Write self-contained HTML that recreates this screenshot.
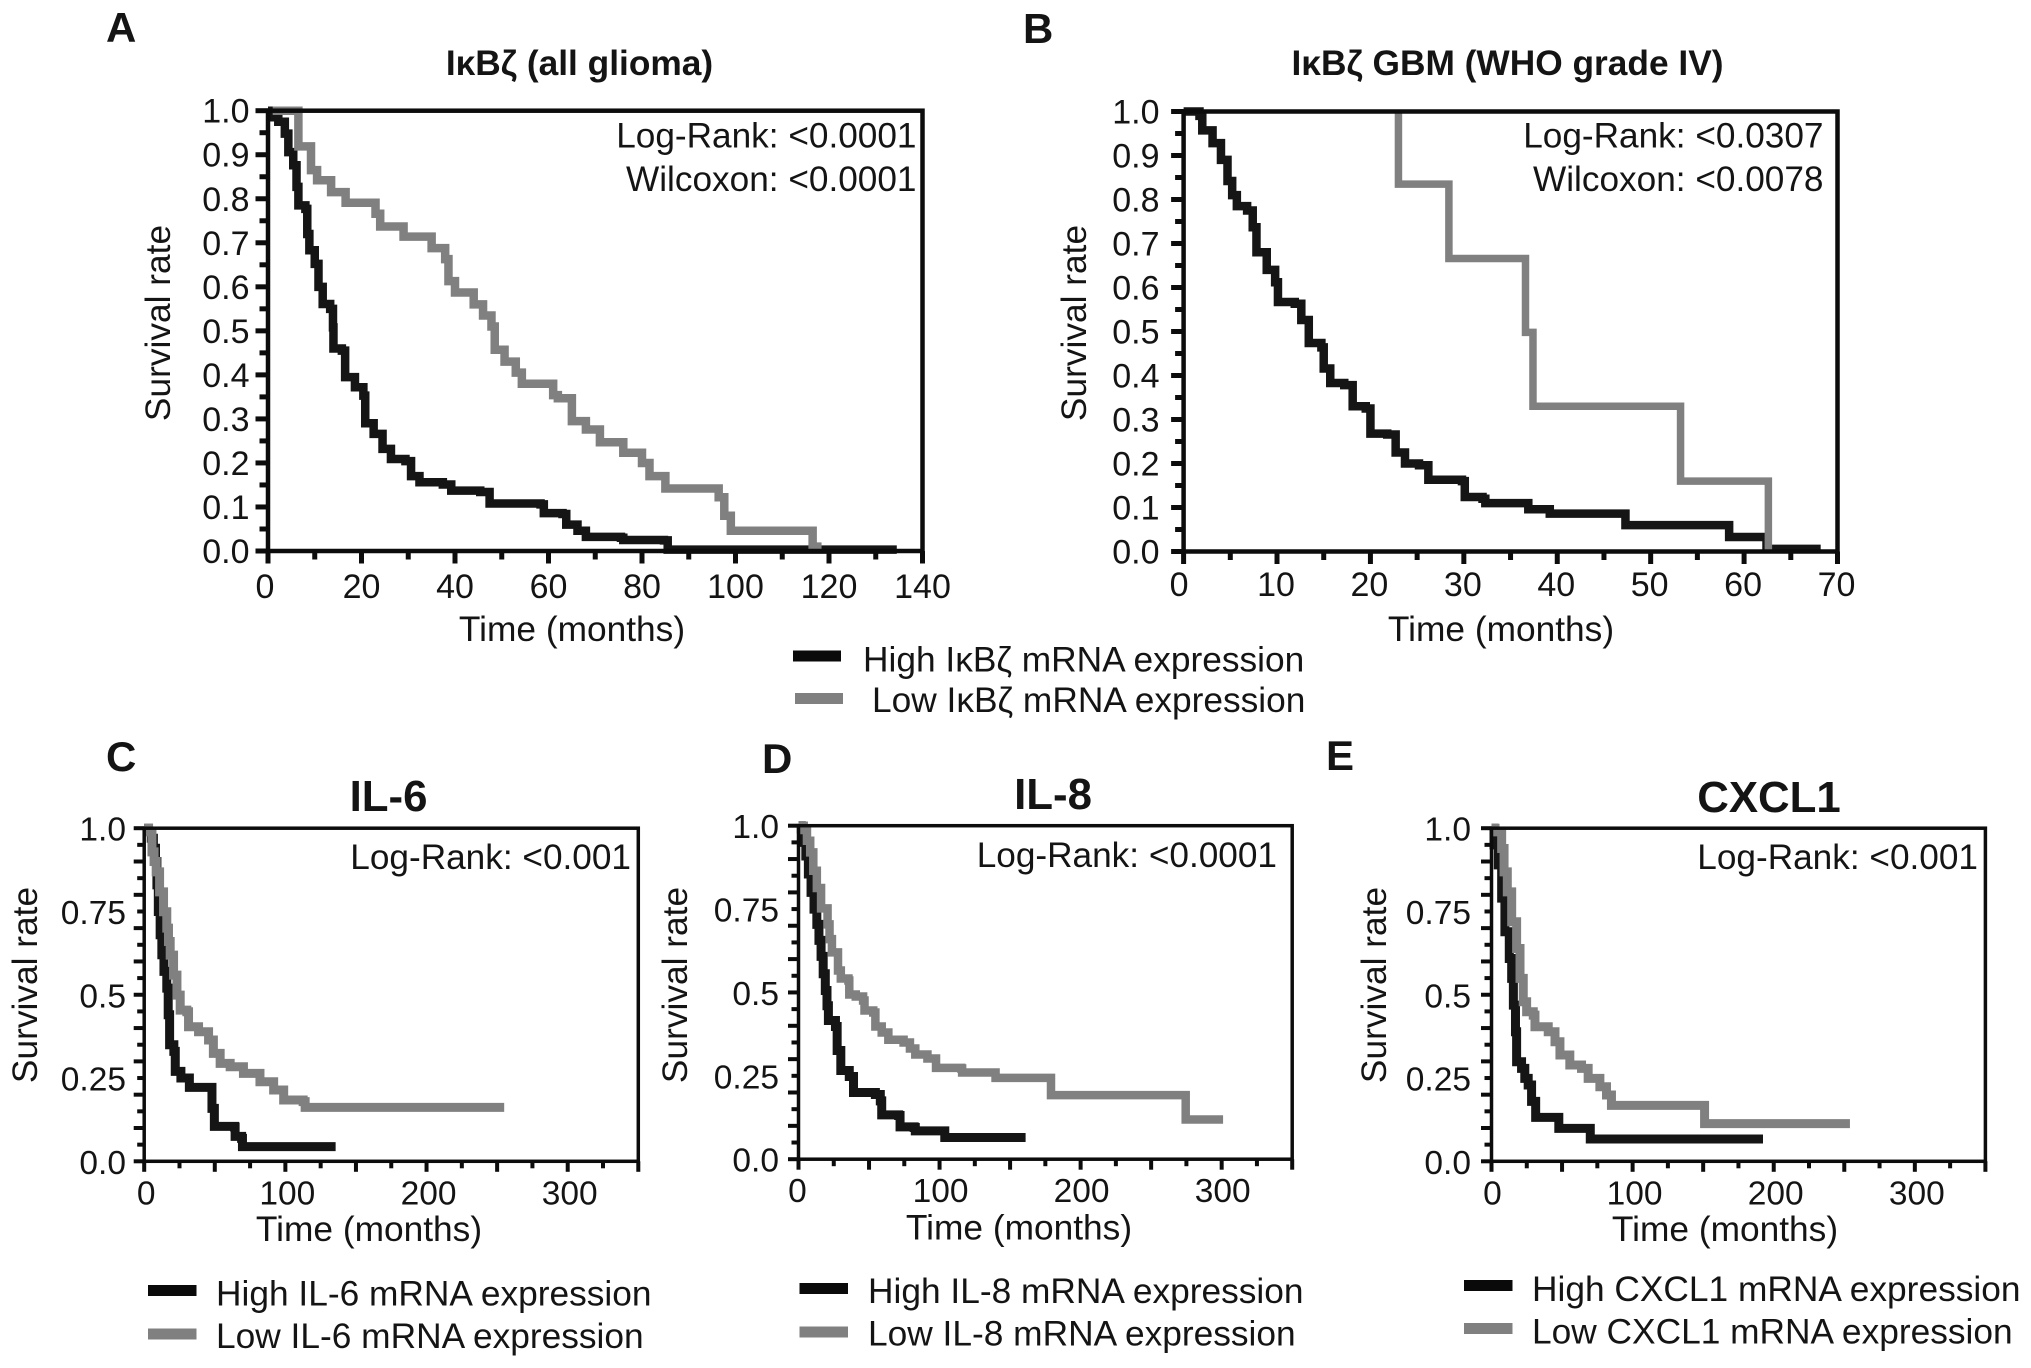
<!DOCTYPE html>
<html lang="en">
<head>
<meta charset="utf-8">
<title>Survival curves</title>
<style>
html,body{margin:0;padding:0;background:#fff;width:2031px;height:1368px;overflow:hidden}
svg{display:block}
text{font-family:"Liberation Sans",Arial,sans-serif;fill:#141414}
.tick{font-size:34px}
.tick2{font-size:33.5px}
.axt{font-size:35.3px}
.stat{font-size:35.2px;text-anchor:end}
.leg{font-size:35.3px}
.ttl{font-size:35.3px;font-weight:bold;text-anchor:middle}
.ttl2{font-size:43.8px;font-weight:bold;text-anchor:middle}
.let{font-size:42px;font-weight:bold}
</style>
</head>
<body>
<svg id="figure" xmlns="http://www.w3.org/2000/svg" width="2031" height="1368" viewBox="0 0 2031 1368">
  <rect x="0" y="0" width="2031" height="1368" fill="#ffffff"/>

  <text class="let" x="106" y="42">A</text>
  <text class="let" x="1023" y="43">B</text>
  <text class="let" x="106" y="771">C</text>
  <text class="let" x="762" y="773">D</text>
  <text class="let" x="1326" y="770">E</text>

  <text class="ttl" x="579.5" y="75">IκBζ (all glioma)</text>
  <text class="ttl" x="1507.5" y="75">IκBζ GBM (WHO grade IV)</text>
  <text class="ttl2" x="388.5" y="811">IL-6</text>
  <text class="ttl2" x="1053" y="809">IL-8</text>
  <text class="ttl2" x="1769" y="812">CXCL1</text>

  <text class="stat" x="916.5" y="147.5">Log-Rank: &lt;0.0001</text>
  <text class="stat" x="916.5" y="191">Wilcoxon: &lt;0.0001</text>
  <text class="stat" x="1823.5" y="147.5">Log-Rank: &lt;0.0307</text>
  <text class="stat" x="1823.5" y="191">Wilcoxon: &lt;0.0078</text>
  <text class="stat" x="631" y="869">Log-Rank: &lt;0.001</text>
  <text class="stat" x="1277" y="867">Log-Rank: &lt;0.0001</text>
  <text class="stat" x="1978" y="869">Log-Rank: &lt;0.001</text>

  <text class="axt" text-anchor="middle" x="572" y="641">Time (months)</text>
  <text class="axt" text-anchor="middle" x="1501" y="641">Time (months)</text>
  <text class="axt" text-anchor="middle" x="369" y="1241">Time (months)</text>
  <text class="axt" text-anchor="middle" x="1019" y="1239.5">Time (months)</text>
  <text class="axt" text-anchor="middle" x="1725" y="1241">Time (months)</text>

  <text class="axt" text-anchor="middle" transform="translate(170 323) rotate(-90)">Survival rate</text>
  <text class="axt" text-anchor="middle" transform="translate(1086 323) rotate(-90)">Survival rate</text>
  <text class="axt" text-anchor="middle" transform="translate(37 985) rotate(-90)">Survival rate</text>
  <text class="axt" text-anchor="middle" transform="translate(687 985) rotate(-90)">Survival rate</text>
  <text class="axt" text-anchor="middle" transform="translate(1386 985) rotate(-90)">Survival rate</text>

  <rect x="793" y="650.5" width="48" height="11" fill="#0a0a0a"/>
  <rect x="795" y="693" width="48" height="11" fill="#808080"/>
  <text class="leg" x="863" y="671.5">High IκBζ mRNA expression</text>
  <text class="leg" x="872" y="712">Low IκBζ mRNA expression</text>

  <rect x="148" y="1285" width="48.5" height="11" fill="#0a0a0a"/>
  <rect x="148" y="1328.5" width="48.5" height="11" fill="#808080"/>
  <text class="leg" x="216" y="1305.5">High IL-6 mRNA expression</text>
  <text class="leg" x="216" y="1348">Low IL-6 mRNA expression</text>

  <rect x="799.5" y="1283" width="48.5" height="11" fill="#0a0a0a"/>
  <rect x="799.5" y="1326.5" width="48.5" height="11" fill="#808080"/>
  <text class="leg" x="868" y="1303">High IL-8 mRNA expression</text>
  <text class="leg" x="868" y="1345.5">Low IL-8 mRNA expression</text>

  <rect x="1464" y="1280" width="48.5" height="11" fill="#0a0a0a"/>
  <rect x="1464" y="1323" width="48.5" height="11" fill="#808080"/>
  <text class="leg" x="1532" y="1301">High CXCL1 mRNA expression</text>
  <text class="leg" x="1532" y="1343.5">Low CXCL1 mRNA expression</text>

  <g id="charts"></g>
</svg>

<script>
// ---- Tick labels ----
const survivalTicksAB = ['0.0','0.1','0.2','0.3','0.4','0.5','0.6','0.7','0.8','0.9','1.0'];
const survivalValuesAB = [0,0.1,0.2,0.3,0.4,0.5,0.6,0.7,0.8,0.9,1];
const survivalTicksCDE = ['0.0','0.25','0.5','0.75','1.0'];
const survivalValuesCDE = [0,0.25,0.5,0.75,1];
const timeTicksA = [0,20,40,60,80,100,120,140];
const timeTicksB = [0,10,20,30,40,50,60,70];
const timeTicksCDE = [0,100,200,300];

// ---- Panel A: IkBz all glioma ----
const panelAHighTime = [0,1.2,2.2,3.6,4.35,5.4,6.1,6.5,8,8.4,8.85,10,10.8,11.7,13.3,13.9,14,15.8,16.5,18.6,20.4,20.8,22.6,24.5,26.3,29.4,30.6,32.4,37.4,39.2,45.4,47.4,58.3,59,63,63.8,66.2,68,75.5,76,84.7,85.5,134.5];
const panelAHighSurvival = [1,0.985,0.975,0.948,0.906,0.876,0.827,0.785,0.777,0.72,0.683,0.652,0.6,0.561,0.55,0.508,0.46,0.455,0.395,0.372,0.353,0.29,0.266,0.232,0.209,0.204,0.17,0.156,0.151,0.137,0.134,0.108,0.106,0.086,0.084,0.06,0.046,0.032,0.03,0.025,0.024,0.003,0.003];
const panelALowTime = [1,6.5,9.2,10.5,13.5,16.6,23,24,29,35,37.9,38.6,40,44,46,47.8,48.5,50.6,53,54.3,61,62,65,68,71,76,80,81.6,85,96.4,97.6,99,116.5,117.5];
const panelALowSurvival = [1,0.919,0.865,0.842,0.815,0.791,0.766,0.737,0.714,0.688,0.663,0.613,0.587,0.56,0.535,0.51,0.457,0.43,0.405,0.38,0.354,0.347,0.295,0.276,0.247,0.223,0.2,0.17,0.142,0.122,0.08,0.046,0.01,0];

// ---- Panel B: IkBz GBM ----
const panelBHighTime = [0,1.7,2,3.1,4,4.7,5.2,5.7,6.8,7.4,7.8,8.9,9.8,10.1,11.9,12.6,13.4,14.75,15,15.7,17.2,18.1,19.5,20,21.8,22.7,23.7,25.2,26.2,29.8,30.1,32,32.3,36.9,39.2,47.3,58.4,62.4,68.2];
const panelBHighSurvival = [1,0.99,0.957,0.928,0.89,0.842,0.81,0.785,0.775,0.737,0.68,0.64,0.612,0.567,0.563,0.526,0.474,0.464,0.416,0.383,0.378,0.33,0.325,0.268,0.266,0.225,0.2,0.196,0.163,0.16,0.124,0.12,0.11,0.096,0.086,0.06,0.033,0.006,0.006];
const panelBLowTime = [23,23,28.4,36.6,37.4,53.2,62.6];
const panelBLowSurvival = [1,0.835,0.666,0.498,0.33,0.16,0];

// ---- Panel C: IL-6 ----
const panelCHighTime = [0,3,5,6.5,8,9,10,11.3,12.5,14,16,17,18,21,22,25.7,26,31.7,32,47.5,48,49.7,64,64.4,69,69.6,135.6];
const panelCHighSurvival = [1,0.99,0.97,0.94,0.9,0.83,0.75,0.68,0.62,0.57,0.52,0.44,0.35,0.33,0.27,0.27,0.25,0.25,0.222,0.222,0.159,0.105,0.103,0.075,0.069,0.044,0.044];
const panelCLowTime = [0,3.1,5.5,7,8.5,10.9,13.7,16,17.2,18.4,20.8,23.2,25.5,30.2,31.4,38.5,45.6,49,53.8,60.9,70.3,82,91.7,98.8,112.6,114,255];
const panelCLowSurvival = [1,0.989,0.929,0.9,0.869,0.809,0.749,0.7,0.66,0.619,0.559,0.499,0.454,0.449,0.404,0.389,0.364,0.324,0.294,0.284,0.264,0.239,0.214,0.184,0.179,0.162,0.162];

// ---- Panel D: IL-8 ----
const panelDHighTime = [0,2,3.6,5.2,7,8.9,11,13,14.5,16,17.5,19,20.2,21.2,26.2,27.4,30,36,39,54.5,58,59,71,72,82,82.8,103.7,161];
const panelDHighSurvival = [1,0.99,0.95,0.909,0.855,0.8,0.75,0.704,0.656,0.608,0.556,0.506,0.46,0.416,0.398,0.326,0.266,0.248,0.2,0.194,0.175,0.133,0.131,0.097,0.095,0.085,0.065,0.065];
const panelDLowTime = [0,3.7,6,8.3,10.5,13,16,20.6,22,23.7,28,30,35.4,36,40.6,45.8,46.8,53,54.5,59,63.7,74.5,79,82.8,91.4,97.5,115.4,116,139.7,179,274.5,301];
const panelDLowSurvival = [1,0.987,0.955,0.92,0.865,0.813,0.752,0.704,0.66,0.62,0.566,0.542,0.536,0.494,0.488,0.476,0.446,0.44,0.398,0.38,0.358,0.35,0.332,0.314,0.302,0.274,0.272,0.26,0.244,0.192,0.119,0.119];

// ---- Panel E: CXCL1 ----
const panelEHighTime = [0,1.8,4.8,7.2,9.5,12.6,14.3,15.5,17,17.8,21.3,23.6,26,28.4,31.3,47.7,70,192.4];
const panelEHighSurvival = [1,0.95,0.89,0.79,0.689,0.609,0.549,0.469,0.389,0.299,0.279,0.249,0.229,0.18,0.132,0.099,0.067,0.067];
const panelELowTime = [0,2.5,7.2,8.9,11.2,14.3,17.8,20.2,22.5,24.9,29.6,30.8,40.2,45,48.5,55.5,63.8,68.5,76.8,81.5,85,151,254];
const panelELowSurvival = [1,0.989,0.939,0.869,0.809,0.719,0.639,0.549,0.479,0.449,0.439,0.404,0.389,0.359,0.319,0.289,0.279,0.249,0.224,0.199,0.168,0.113,0.113];

const NS = 'http://www.w3.org/2000/svg';
const root = document.getElementById('charts');

function make(tag, parent) {
  const el = document.createElementNS(NS, tag);
  parent.appendChild(el);
  return el;
}

function linScale(d0, d1, r0, r1) {
  return function (v) { return r0 + (v - d0) * (r1 - r0) / (d1 - d0); };
}

function drawSeries(group, xs, ys, time, surv, color, width, name) {
  let d = 'M' + xs(time[0]).toFixed(2) + ' ' + ys(surv[0]).toFixed(2);
  for (let i = 1; i < time.length; i++) {
    d += 'H' + xs(time[i]).toFixed(2) + 'V' + ys(surv[i]).toFixed(2);
  }
  const p = make('path', group);
  p.setAttribute('d', d);
  p.setAttribute('fill', 'none');
  p.setAttribute('stroke', color);
  p.setAttribute('stroke-width', width);
  p.setAttribute('stroke-linejoin', 'miter');
  p.setAttribute('stroke-linecap', 'butt');
  
  
}

function drawLine(group, x1, y1, x2, y2, width, name) {
  const l = make('line', group);
  l.setAttribute('x1', x1);
  l.setAttribute('y1', y1);
  l.setAttribute('x2', x2);
  l.setAttribute('y2', y2);
  l.setAttribute('stroke', '#0c0c0c');
  l.setAttribute('stroke-width', width);
  
  
}

function drawLabel(group, cls, x, y, str, anchor, name) {
  const t = make('text', group);
  t.setAttribute('x', x);
  t.setAttribute('y', y);
  t.setAttribute('class', cls);
  t.setAttribute('text-anchor', anchor);
  t.textContent = str;
  
  
}

function drawPanel(cfg) {
  const g = make('g', root);
  
  

  const xs = linScale(0, cfg.xMax, cfg.left, cfg.right);
  const ys = linScale(0, 1, cfg.bottom, cfg.top);

  drawSeries(g, xs, ys, cfg.highT, cfg.highS, '#151515', cfg.highW, 'high-expression-curve-' + cfg.id);
  drawSeries(g, xs, ys, cfg.lowT, cfg.lowS, '#808080', cfg.lowW, 'low-expression-curve-' + cfg.id);

  // frame
  const frame = make('rect', g);
  frame.setAttribute('x', cfg.left);
  frame.setAttribute('y', cfg.top);
  frame.setAttribute('width', cfg.right - cfg.left);
  frame.setAttribute('height', cfg.bottom - cfg.top);
  frame.setAttribute('fill', 'none');
  frame.setAttribute('stroke', '#0c0c0c');
  frame.setAttribute('stroke-width', cfg.axisW);
  
  

  // y ticks every 0.05, long on each 0.1
  for (let i = 0; i <= 20; i++) {
    const long = i % 2 === 0;
    const y = ys(i / 20);
    drawLine(g, cfg.left - (long ? cfg.majorLen : cfg.minorLen), y, cfg.left, y, cfg.tickW, 'y-tick-' + cfg.id);
  }
  // x ticks
  const nx = Math.round(cfg.xMax / cfg.xMinorStep);
  for (let i = 0; i <= nx; i++) {
    const long = i % 2 === 0;
    const x = xs(i * cfg.xMinorStep);
    drawLine(g, x, cfg.bottom, x, cfg.bottom + (long ? cfg.majorLen : cfg.minorLen), cfg.tickW, 'x-tick-' + cfg.id);
  }
  // labels
  cfg.yVals.forEach(function (v, i) {
    drawLabel(g, cfg.labelClass, cfg.yLabelX, ys(v) + cfg.yLabelDy, cfg.yLabels[i], 'end', 'y-tick-label-' + cfg.id);
  });
  cfg.xVals.forEach(function (v) {
    const dx = v === 0 ? cfg.zeroLabelDx : cfg.xLabelDx;
    drawLabel(g, cfg.labelClass, xs(v) + dx, cfg.xLabelY, String(v), 'middle', 'x-tick-label-' + cfg.id);
  });
}

drawPanel({id:'a', labelClass:'tick', left:268, right:922.5, top:110.7, bottom:551, xMax:140, xMinorStep:10, highW:8.5, lowW:8.5, axisW:4.5, tickW:5, majorLen:12.5, minorLen:8.5,
  yVals:survivalValuesAB, yLabels:survivalTicksAB, xVals:timeTicksA, yLabelX:249.5, yLabelDy:12, xLabelY:598, xLabelDx:0, zeroLabelDx:-3,
  highT:panelAHighTime, highS:panelAHighSurvival, lowT:panelALowTime, lowS:panelALowSurvival});

drawPanel({id:'b', labelClass:'tick', left:1183.6, right:1837.5, top:111.5, bottom:551.5, xMax:70, xMinorStep:5, highW:8.5, lowW:7.5, axisW:4.5, tickW:5, majorLen:12.5, minorLen:8.5,
  yVals:survivalValuesAB, yLabels:survivalTicksAB, xVals:timeTicksB, yLabelX:1159.5, yLabelDy:12, xLabelY:596, xLabelDx:-1, zeroLabelDx:-4.5,
  highT:panelBHighTime, highS:panelBHighSurvival, lowT:panelBLowTime, lowS:panelBLowSurvival});

drawPanel({id:'c', labelClass:'tick2', left:144.2, right:638.3, top:828.2, bottom:1161.3, xMax:350, xMinorStep:25, highW:9, lowW:9, axisW:3.5, tickW:4, majorLen:10.5, minorLen:7,
  yVals:survivalValuesCDE, yLabels:survivalTicksCDE, xVals:timeTicksCDE, yLabelX:126, yLabelDy:12.5, xLabelY:1204.5, xLabelDx:2, zeroLabelDx:2,
  highT:panelCHighTime, highS:panelCHighSurvival, lowT:panelCLowTime, lowS:panelCLowSurvival});

drawPanel({id:'d', labelClass:'tick2', left:798.5, right:1292.2, top:825.7, bottom:1159.2, xMax:350, xMinorStep:25, highW:9, lowW:8.5, axisW:3.5, tickW:4, majorLen:10.5, minorLen:7,
  yVals:survivalValuesCDE, yLabels:survivalTicksCDE, xVals:timeTicksCDE, yLabelX:779, yLabelDy:12.5, xLabelY:1202, xLabelDx:1, zeroLabelDx:-1,
  highT:panelDHighTime, highS:panelDHighSurvival, lowT:panelDLowTime, lowS:panelDLowSurvival});

drawPanel({id:'e', labelClass:'tick2', left:1491.5, right:1985.4, top:828.2, bottom:1161.3, xMax:350, xMinorStep:25, highW:9, lowW:9, axisW:3.5, tickW:4, majorLen:10.5, minorLen:7,
  yVals:survivalValuesCDE, yLabels:survivalTicksCDE, xVals:timeTicksCDE, yLabelX:1471, yLabelDy:12.5, xLabelY:1204.5, xLabelDx:2, zeroLabelDx:1,
  highT:panelEHighTime, highS:panelEHighSurvival, lowT:panelELowTime, lowS:panelELowSurvival});
</script>
</body>
</html>
